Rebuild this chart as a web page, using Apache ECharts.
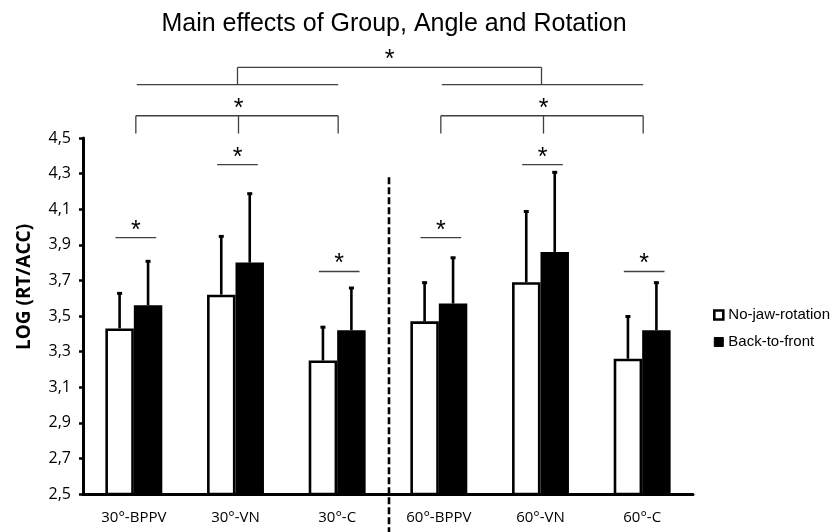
<!DOCTYPE html>
<html>
<head>
<meta charset="utf-8">
<script src="https://cdn.jsdelivr.net/npm/echarts@6/dist/echarts.min.js"></script>
<style>html,body{margin:0;padding:0;background:#fff}#chart{width:840px;height:532px}</style>
</head>
<body>
<div id="chart"></div>
<script>
const categories = ['30°-BPPV', '30°-VN', '30°-C', '60°-BPPV', '60°-VN', '60°-C'];
const noJawMean = [3.43, 3.62, 3.25, 3.47, 3.69, 3.26];
const noJawSD = [0.20, 0.33, 0.19, 0.22, 0.40, 0.24];
const backFrontMean = [3.56, 3.80, 3.42, 3.57, 3.86, 3.42];
const backFrontSD = [0.25, 0.39, 0.24, 0.26, 0.45, 0.27];
const yTicks = [2.5, 2.7, 2.9, 3.1, 3.3, 3.5, 3.7, 3.9, 4.1, 4.3, 4.5];
const pairSigLevel = [3.94, 4.35, 3.75, 3.94, 4.35, 3.75];
const groupSpans = [[0, 1, 2], [3, 4, 5]];

const BAR_W = 0.28;
const SIG_COLOR = '#404040';
const STAR_FONT = '25px "Liberation Sans", Arial, sans-serif';

function errRender(sign) {
  return function (params, api) {
    const i = api.value(0);
    const base = api.coord([i, api.value(1)]);
    const top = api.coord([i, api.value(2)]);
    const x = base[0] + api.size([1, 0])[0] * (BAR_W / 2) * sign;
    return {
      type: 'group',
      children: [
        { type: 'line', shape: { x1: x, y1: base[1], x2: x, y2: top[1] }, style: { stroke: '#000', lineWidth: 2.6 } },
        { type: 'rect', shape: { x: x - 2.5, y: top[1] - 1, width: 5, height: 3 }, style: { fill: '#000' } }
      ]
    };
  };
}

function star(x, centerY) {
  return { type: 'text', x: x, y: centerY + 4, style: { text: '*', font: STAR_FONT, fill: '#000', align: 'center', verticalAlign: 'middle' } };
}

function hline(x1, x2, y) {
  return { type: 'line', shape: { x1: x1, y1: y, x2: x2, y2: y }, style: { stroke: SIG_COLOR, lineWidth: 1.3 } };
}
function vline(x, y1, y2) {
  return { type: 'line', shape: { x1: x, y1: y1, x2: x, y2: y2 }, style: { stroke: SIG_COLOR, lineWidth: 1.3 } };
}

const chart = echarts.init(document.getElementById('chart'), null, { renderer: 'canvas' });

const option = {
  backgroundColor: '#fff',
  animation: false,
  title: {
    text: 'Main effects of Group, Angle and Rotation',
    left: 394, top: 12, padding: 0, textAlign: 'center',
    textStyle: { fontFamily: '"Liberation Sans", Arial, sans-serif', fontSize: 25, fontWeight: 'normal', color: '#000' }
  },
  legend: {
    orient: 'vertical', left: 713, top: 307, padding: 0,
    itemWidth: 9, itemHeight: 9, itemGap: 11,
    icon: 'rect',
    textStyle: { fontFamily: '"Liberation Sans", Arial, sans-serif', fontSize: 15, color: '#000', lineHeight: 16 },
    data: [
      { name: 'No-jaw-rotation', itemStyle: { color: '#fff', borderColor: '#000', borderWidth: 2.6 } },
      { name: 'Back-to-front', itemStyle: { color: '#000', borderColor: '#000', borderWidth: 1 } }
    ]
  },
  grid: { left: 83, right: 147, top: 138, bottom: 38 },
  xAxis: {
    type: 'category',
    data: categories,
    axisLine: { show: true, lineStyle: { color: '#000', width: 3 } },
    axisTick: { show: false },
    axisLabel: { color: '#000', fontFamily: '"Open Sans", sans-serif', fontSize: 15, margin: 16 },
    splitLine: { show: false }
  },
  yAxis: {
    type: 'value',
    min: 2.5, max: 4.5,
    axisLine: { show: true, lineStyle: { color: '#000', width: 3 } },
    axisTick: { show: true, length: 4, inside: false, customValues: yTicks, lineStyle: { color: '#000', width: 2.5 } },
    axisLabel: {
      customValues: yTicks,
      color: '#000', fontFamily: '"Open Sans", sans-serif', fontSize: 16, margin: 12,
      formatter: function (v) { return v.toFixed(1).replace('.', ','); }
    },
    splitLine: { show: false }
  },
  graphic: [
    {
      type: 'text', x: 25, y: 287, rotation: Math.PI / 2,
      style: { text: 'LOG (RT/ACC)', font: 'bold 19px "Open Sans", sans-serif', fill: '#000', align: 'center', verticalAlign: 'middle' }
    }
  ],
  series: [
    {
      name: 'No-jaw-rotation', type: 'bar', data: noJawMean,
      barWidth: (BAR_W * 100) + '%', barGap: '0%',
      itemStyle: { color: '#fff', borderColor: '#000', borderWidth: 2.6 },
      z: 2
    },
    {
      name: 'Back-to-front', type: 'bar', data: backFrontMean,
      barWidth: (BAR_W * 100) + '%', barGap: '0%',
      itemStyle: { color: '#000', borderColor: '#000', borderWidth: 2.6 },
      z: 2
    },
    {
      name: 'errNoJaw', type: 'custom', z: 3, clip: false,
      data: categories.map(function (c, i) { return [i, noJawMean[i], noJawMean[i] + noJawSD[i]]; }),
      encode: { x: 0, y: [1, 2] },
      renderItem: errRender(-1)
    },
    {
      name: 'errBack', type: 'custom', z: 3, clip: false,
      data: categories.map(function (c, i) { return [i, backFrontMean[i], backFrontMean[i] + backFrontSD[i]]; }),
      encode: { x: 0, y: [1, 2] },
      renderItem: errRender(1)
    },
    {
      name: 'pairSig', type: 'custom', z: 4, clip: false,
      data: categories.map(function (c, i) { return [i, pairSigLevel[i]]; }),
      encode: { x: 0, y: 1 },
      renderItem: function (params, api) {
        const p = api.coord([api.value(0), api.value(1)]);
        const half = api.size([1, 0])[0] * 0.2;
        const cx = p[0] + 2;
        return { type: 'group', children: [hline(cx - half, cx + half, p[1]), star(cx, p[1] - 11)] };
      }
    },
    {
      name: 'groupSig', type: 'custom', z: 4, clip: false,
      data: groupSpans,
      encode: { x: [0, 1, 2] },
      renderItem: function (params, api) {
        const yTop = api.coord([0, 4.625])[1];
        const yLeg = api.coord([0, 4.525])[1];
        const a = api.coord([api.value(0), 4.625])[0] + 2;
        const m = api.coord([api.value(1), 4.625])[0] + 3;
        const b = api.coord([api.value(2), 4.625])[0] + 1;
        return {
          type: 'group',
          children: [hline(a, b, yTop), vline(a, yTop, yLeg), vline(m, yTop, yLeg), vline(b, yTop, yLeg), star(m, yTop - 11)]
        };
      }
    },
    {
      name: 'angleSig', type: 'custom', z: 4, clip: false,
      data: [[groupSpans[0][1], groupSpans[1][1]]],
      encode: { x: [0, 1] },
      renderItem: function (params, api) {
        const yTop = api.coord([0, 4.897])[1];
        const yBase = api.coord([0, 4.80])[1];
        const l = api.coord([api.value(0), 0])[0] + 2;
        const r = api.coord([api.value(1), 0])[0] + 1;
        const children = [hline(l, r, yTop), vline(l, yTop, yBase), vline(r, yTop, yBase), star((l + r) / 2, yTop - 11)];
        groupSpans.forEach(function (g) {
          const a = api.coord([g[0], 0])[0] + 3;
          const b = api.coord([g[2], 0])[0] + 1;
          children.push(hline(a, b, yBase));
        });
        return { type: 'group', children: children };
      }
    },
    {
      name: 'separator', type: 'custom', z: 5, clip: false,
      data: [[2, 3]],
      encode: { x: [0, 1] },
      renderItem: function (params, api) {
        const p1 = api.coord([api.value(0), 4.28]);
        const p2 = api.coord([api.value(1), 4.28]);
        const x = (p1[0] + p2[0]) / 2 + 1;
        return {
          type: 'line',
          shape: { x1: x, y1: p1[1], x2: x, y2: api.getHeight() },
          style: { stroke: '#000', lineWidth: 2.6, lineDash: [7, 3] }
        };
      }
    }
  ]
};

chart.setOption(option);
</script>
</body>
</html>
